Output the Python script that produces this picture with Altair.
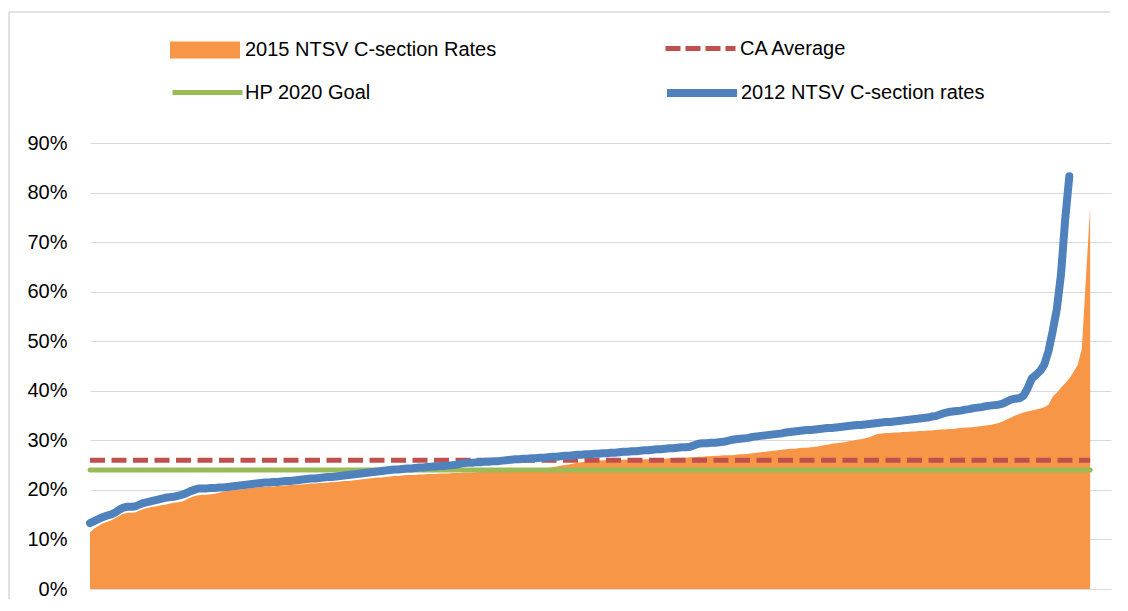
import altair as alt
import pandas as pd

# 2015 NTSV C-section rates (%), hospitals sorted ascending
rates_2015 = [
    11.4, 12.2, 12.7, 13.2, 13.5, 13.8, 14.3, 14.8, 15.2, 15.4,
    15.4, 15.5, 15.9, 16.2, 16.4, 16.6, 16.7, 16.9, 17.0, 17.2,
    17.4, 17.5, 17.6, 18.0, 18.4, 18.7, 18.9, 19.0, 19.0, 19.1,
    19.2, 19.4, 19.6, 19.8, 19.9, 20.0, 20.1, 20.2, 20.3, 20.4,
    20.5, 20.6, 20.6, 20.7, 20.7, 20.8, 20.8, 20.9, 21.0, 21.0,
    21.1, 21.1, 21.2, 21.3, 21.3, 21.4, 21.4, 21.5, 21.6, 21.6,
    21.7, 21.8, 21.8, 21.9, 22.0, 22.1, 22.2, 22.3, 22.4, 22.5,
    22.5, 22.6, 22.7, 22.8, 22.8, 22.9, 23.0, 23.0, 23.0, 23.1,
    23.1, 23.2, 23.2, 23.2, 23.3, 23.3, 23.3, 23.4, 23.4, 23.4,
    23.5, 23.5, 23.5, 23.6, 23.6, 23.6, 23.6, 23.7, 23.7, 23.7,
    23.7, 23.8, 23.8, 23.8, 23.8, 23.9, 23.9, 24.0, 24.0, 24.2,
    24.4, 24.6, 24.7, 24.9, 25.0, 25.1, 25.3, 25.5, 25.6, 25.7,
    25.8, 25.9, 25.9, 26.0, 26.0, 26.0, 26.0, 26.0, 26.1, 26.1,
    26.1, 26.1, 26.1, 26.2, 26.2, 26.2, 26.3, 26.3, 26.3, 26.4,
    26.4, 26.5, 26.5, 26.5, 26.6, 26.6, 26.7, 26.7, 26.8, 26.8,
    26.9, 26.9, 27.0, 27.0, 27.0, 27.1, 27.2, 27.2, 27.3, 27.4,
    27.5, 27.6, 27.7, 27.8, 27.9, 28.0, 28.1, 28.2, 28.3, 28.3,
    28.4, 28.5, 28.5, 28.6, 28.7, 28.8, 29.0, 29.1, 29.3, 29.4,
    29.5, 29.6, 29.8, 29.9, 30.1, 30.2, 30.4, 30.6, 31.0, 31.3,
    31.4, 31.5, 31.5, 31.6, 31.6, 31.7, 31.7, 31.8, 31.8, 31.9,
    31.9, 32.0, 32.0, 32.1, 32.2, 32.2, 32.3, 32.3, 32.4, 32.5,
    32.6, 32.6, 32.7, 32.8, 32.9, 33.0, 33.1, 33.3, 33.5, 33.8,
    34.2, 34.6, 35.0, 35.3, 35.6, 35.8, 36.0, 36.2, 36.4, 36.7,
    37.2, 38.8, 39.6, 40.6, 41.5, 42.5, 43.8, 45.2, 48.5, 63.0,
    77.0,
]

# 2012 NTSV C-section rates (%), hospitals sorted ascending
rates_2012 = [
    13.3, 13.7, 14.1, 14.5, 14.8, 15.0, 15.4, 16.0, 16.4, 16.6,
    16.6, 16.7, 17.1, 17.4, 17.6, 17.8, 18.0, 18.2, 18.4, 18.5,
    18.6, 18.8, 19.0, 19.3, 19.7, 20.0, 20.3, 20.3, 20.3, 20.4,
    20.4, 20.5, 20.5, 20.6, 20.7, 20.8, 20.9, 21.0, 21.1, 21.2,
    21.3, 21.4, 21.5, 21.5, 21.6, 21.6, 21.7, 21.8, 21.8, 21.9,
    22.0, 22.1, 22.2, 22.3, 22.3, 22.4, 22.5, 22.6, 22.6, 22.7,
    22.8, 22.9, 23.0, 23.1, 23.2, 23.3, 23.4, 23.5, 23.6, 23.7,
    23.8, 23.9, 24.0, 24.1, 24.1, 24.2, 24.3, 24.3, 24.4, 24.5,
    24.5, 24.6, 24.7, 24.7, 24.8, 24.8, 24.9, 25.0, 25.1, 25.3,
    25.4, 25.5, 25.5, 25.6, 25.6, 25.7, 25.7, 25.8, 25.8, 25.9,
    26.0, 26.1, 26.2, 26.2, 26.3, 26.3, 26.4, 26.4, 26.5, 26.5,
    26.6, 26.7, 26.7, 26.8, 26.9, 26.9, 27.0, 27.1, 27.1, 27.2,
    27.2, 27.3, 27.3, 27.4, 27.4, 27.5, 27.5, 27.6, 27.7, 27.7,
    27.8, 27.8, 27.9, 28.0, 28.0, 28.1, 28.2, 28.2, 28.3, 28.4,
    28.4, 28.5, 28.6, 28.6, 28.7, 29.0, 29.3, 29.4, 29.4, 29.5,
    29.5, 29.6, 29.7, 29.9, 30.1, 30.2, 30.3, 30.4, 30.5, 30.7,
    30.8, 30.9, 31.0, 31.1, 31.2, 31.3, 31.4, 31.6, 31.7, 31.8,
    31.9, 32.0, 32.1, 32.1, 32.2, 32.3, 32.4, 32.5, 32.5, 32.6,
    32.7, 32.8, 32.9, 33.0, 33.1, 33.1, 33.2, 33.3, 33.4, 33.5,
    33.6, 33.7, 33.7, 33.8, 33.9, 34.0, 34.1, 34.2, 34.3, 34.4,
    34.5, 34.6, 34.8, 34.9, 35.2, 35.5, 35.7, 35.8, 35.9, 36.0,
    36.2, 36.3, 36.5, 36.6, 36.7, 36.9, 37.0, 37.1, 37.2, 37.4,
    37.8, 38.2, 38.4, 38.5, 39.0, 40.5, 42.5, 43.2, 44.0, 45.3,
    48.0, 52.0, 56.5, 63.5, 74.5, 83.3,
]

ca_average = 26.0
hp_2020_goal = 24.0
y_ticks = [0, 0.1, 0.2, 0.3, 0.4, 0.5, 0.6, 0.7, 0.8, 0.9]

names = ["2015 NTSV C-section Rates", "CA Average", "HP 2020 Goal", "2012 NTSV C-section rates"]
colors = ["#F79646", "#C0504D", "#9BBB59", "#4F81BD"]

FONT = "Liberation Sans"

df15 = pd.DataFrame({"i": list(range(len(rates_2015))),
                     "v": [r / 100 for r in rates_2015],
                     "series": names[0]})
df12 = pd.DataFrame({"i": list(range(len(rates_2012))),
                     "v": [r / 100 for r in rates_2012],
                     "series": names[3]})
last = len(rates_2015) - 1
df_ca = pd.DataFrame({"x0": [0], "x1": [last], "v": [ca_average / 100], "series": [names[1]]})
df_hp = pd.DataFrame({"x0": [0], "x1": [last], "v": [hp_2020_goal / 100], "series": [names[2]]})
df_frame = pd.DataFrame({"k": [0]})

xscale = alt.Scale(domain=[0, 245], nice=False, zero=False)
yscale = alt.Scale(domain=[0, 0.9], nice=False)


def leg(x, y, offset, **kw):
    return alt.Legend(title=None, orient="none", legendX=x, legendY=y,
                      labelFontSize=20, labelFont=FONT, labelColor="#000000",
                      labelLimit=500, labelOffset=offset, padding=0, **kw)


# light grey chart frame (top and left edges)
frame_top = alt.Chart(df_frame).mark_rule(stroke="#D9D9D9", strokeWidth=1.5, clip=False).encode(
    x=alt.value(-81), x2=alt.value(1020), y=alt.value(-131), y2=alt.value(-131)
)
frame_left = alt.Chart(df_frame).mark_rule(stroke="#D9D9D9", strokeWidth=1.5, clip=False).encode(
    x=alt.value(-81), x2=alt.value(-81), y=alt.value(-131), y2=alt.value(470)
)

area = alt.Chart(df15).mark_area(interpolate="linear", opacity=1).encode(
    x=alt.X("i:Q", scale=xscale, axis=None),
    y=alt.Y("v:Q", scale=yscale,
            axis=alt.Axis(format=".0%", values=y_ticks, title=None, domain=False,
                          ticks=False, grid=True, gridColor="#D9D9D9", gridWidth=1.2,
                          labelFontSize=20, labelFont=FONT, labelColor="#000000",
                          labelPadding=23)),
    color=alt.Color("series:N", scale=alt.Scale(domain=[names[0]], range=[colors[0]]),
                    legend=leg(80, -128, 5, symbolType="M-1,-0.243H1V0.243H-1Z",
                               symbolSize=4900, symbolStrokeWidth=0)),
)

hp = alt.Chart(df_hp).mark_rule(strokeWidth=5, strokeCap="round").encode(
    x=alt.X("x0:Q", scale=xscale, axis=None), x2="x1:Q",
    y=alt.Y("v:Q", scale=yscale),
    color=alt.Color("series:N", scale=alt.Scale(domain=[names[2]], range=[colors[2]]),
                    legend=leg(80, -88, 0, symbolType="stroke", symbolSize=4900,
                               symbolStrokeWidth=5)),
)

ca = alt.Chart(df_ca).mark_rule(strokeWidth=5, strokeDash=[15, 6.5]).encode(
    x=alt.X("x0:Q", scale=xscale, axis=None), x2="x1:Q",
    y=alt.Y("v:Q", scale=yscale),
    color=alt.Color("series:N", scale=alt.Scale(domain=[names[1]], range=[colors[1]]),
                    legend=leg(573, -132, 2, symbolType="stroke", symbolSize=4900,
                               symbolStrokeWidth=5, symbolDash=[15, 5])),
)

line = alt.Chart(df12).mark_line(strokeWidth=8, strokeCap="round", strokeJoin="round").encode(
    x=alt.X("i:Q", scale=xscale, axis=None),
    y=alt.Y("v:Q", scale=yscale),
    color=alt.Color("series:N", scale=alt.Scale(domain=[names[3]], range=[colors[3]]),
                    legend=leg(573, -89, 0, symbolType="stroke", symbolSize=4900,
                               symbolStrokeWidth=8)),
)

chart = alt.layer(frame_top, frame_left, area, hp, ca, line).resolve_scale(color="independent").properties(
    width=1021, height=446,
    padding={"left": 82, "top": 135, "right": 5, "bottom": 10},
    autosize=alt.AutoSizeParams(type="none"),
    background="#FFFFFF",
).configure_view(strokeWidth=0)

chart.save("out.html", embed_options={"renderer": "svg", "actions": False})
